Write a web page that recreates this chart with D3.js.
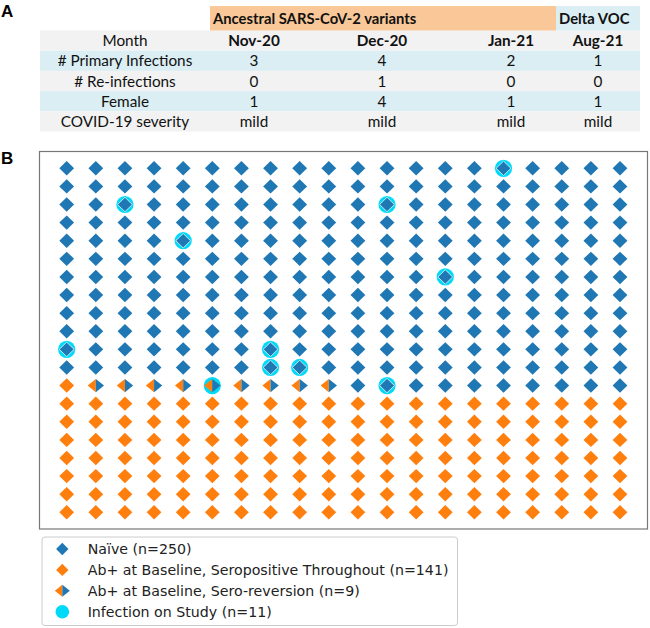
<!DOCTYPE html>
<html>
<head>
<meta charset="utf-8">
<script src="https://cdn.jsdelivr.net/npm/d3@7"></script>
<style>
  html, body { margin: 0; padding: 0; background: #fff; }
  svg { display: block; }
</style>
</head>
<body>
<svg id="chart" width="650" height="628"></svg>
<script>
// ---------- DATA ----------
const variantLabels = ["Ancestral SARS-CoV-2 variants", "Delta VOC"];
const variantMonthSpan = [3, 1];
const rowLabels = ["Month", "# Primary  Infections", "# Re-infections", "Female", "COVID-19 severity"];
const months = ["Nov-20", "Dec-20", "Jan-21", "Aug-21"];
const primaryInfections = [3, 4, 2, 1];
const reInfections = [0, 1, 0, 0];
const female = [1, 4, 1, 1];
const severity = ["mild", "mild", "mild", "mild"];

const gridCols = 20;
const gridRows = 20;
// counts filled from the bottom-left, row by row upward
const groupNames = ["Ab+ at Baseline, Seropositive Throughout", "Ab+ at Baseline, Sero-reversion", "Naïve"];
const groupKeys = ["pos", "rev", "naive"];
const groupCounts = [141, 9, 250];
// infections on study: [column, row-from-top]
const infections = [[15,0],[2,2],[11,2],[4,4],[13,6],[0,10],[7,10],[7,11],[8,11],[5,12],[11,12]];

const legendLabels = ["Naïve (n=250)", "Ab+ at Baseline, Seropositive Throughout (n=141)", "Ab+ at Baseline, Sero-reversion (n=9)", "Infection on Study (n=11)"];

// ---------- STYLE ----------
const BLUE = "#1f77b4", ORANGE = "#ff7f0e", CYAN = "#00d9f7";
const svg = d3.select("#chart");

// ---------- PANEL LABELS ----------
svg.append("text").attr("x", 1).attr("y", 17).text("A")
  .attr("font-family", "Liberation Sans, Arial, sans-serif").attr("font-weight", "bold").attr("font-size", 17);
svg.append("text").attr("x", 1).attr("y", 164).text("B")
  .attr("font-family", "Liberation Sans, Arial, sans-serif").attr("font-weight", "bold").attr("font-size", 17);

// ---------- TABLE (panel A) ----------
const tFont = "Lato, 'Open Sans', sans-serif";
const colEdges = [40, 210, 298, 466, 556, 640];
const colCenter = i => (colEdges[i] + colEdges[i + 1]) / 2;
const rowY = d3.scaleBand().domain(d3.range(rowLabels.length)).range([30.5, 131.5]);
const rowFill = ["#f2f2f2", "#daeef3", "#f2f2f2", "#daeef3", "#f2f2f2"];

const tbl = svg.append("g");
tbl.selectAll("rect.row").data(rowLabels).join("rect")
  .attr("x", colEdges[0]).attr("width", colEdges[5] - colEdges[0])
  .attr("y", (d, i) => rowY(i)).attr("height", rowY.bandwidth())
  .attr("fill", (d, i) => rowFill[i]);

// header bands
let startCol = 1;
const headerFill = ["#fac898", "#dbeef4"];
variantLabels.forEach((lab, k) => {
  const x0 = colEdges[startCol], x1 = colEdges[startCol + variantMonthSpan[k]];
  tbl.append("rect").attr("x", x0).attr("y", 6).attr("width", x1 - x0).attr("height", 24.5).attr("fill", headerFill[k]);
  tbl.append("text").attr("x", x0 + 3).attr("y", 24).text(lab)
    .attr("font-family", tFont).attr("font-weight", "bold").attr("font-size", 14.8).attr("fill", "#111");
  startCol += variantMonthSpan[k];
});

const tableRows = [months, primaryInfections, reInfections, female, severity];
rowLabels.forEach((lab, r) => {
  const cy = rowY(r) + rowY.bandwidth() / 2 + 5.6;
  tbl.append("text").attr("x", colCenter(0)).attr("y", cy).attr("text-anchor", "middle")
    .attr("font-family", tFont).attr("font-size", 15.3).attr("fill", "#111").text(lab);
  tableRows[r].forEach((v, c) => {
    tbl.append("text").attr("x", colCenter(c + 1)).attr("y", cy).attr("text-anchor", "middle")
      .attr("font-family", tFont).attr("font-size", 15.3).attr("fill", "#111")
      .attr("font-weight", r === 0 ? "bold" : "normal").text(v);
  });
});

// ---------- GRID (panel B) ----------
svg.append("rect").attr("x", 39.5).attr("y", 151.5).attr("width", 608).attr("height", 377.5)
  .attr("fill", "none").attr("stroke", "#777").attr("stroke-width", 1.2);

const x = d3.scaleLinear().domain([0, gridCols - 1]).range([66.7, 620]);
const y = d3.scaleLinear().domain([0, gridRows - 1]).range([168.3, 512.3]);

// build cells from counts, filling from bottom row upward, left to right
const cells = [];
let k = 0;
groupKeys.forEach((g, gi) => {
  for (let n = 0; n < groupCounts[gi]; n++, k++) {
    cells.push({ col: k % gridCols, row: gridRows - 1 - Math.floor(k / gridCols), type: g });
  }
});
const infected = new Set(infections.map(d => d[0] + "," + d[1]));

const gB = svg.append("g");
// infection circles (behind markers)
gB.selectAll("circle.inf").data(infections).join("circle")
  .attr("cx", d => x(d[0])).attr("cy", d => y(d[1])).attr("r", 8.6).attr("fill", CYAN);

const dh = 7.4, dv = 7.2;
const diamond = `M0,${-dv}L${dh},0L0,${dv}L${-dh},0Z`;
const leftTri = `M0,${-6.6}L0,${6.6}L${-8.2},0Z`;
const rightTri = `M0,${-6.6}L${8.2},0L0,${6.6}Z`;

const full = cells.filter(c => c.type !== "rev");
gB.selectAll("path.dia").data(full).join("path")
  .attr("transform", d => `translate(${x(d.col)},${y(d.row)})`)
  .attr("d", diamond)
  .attr("fill", d => d.type === "naive" ? BLUE : ORANGE)
  .attr("stroke", d => infected.has(d.col + "," + d.row) ? "#e8fbff" : "none")
  .attr("stroke-width", 0.8);

const rev = cells.filter(c => c.type === "rev");
gB.selectAll("path.revL").data(rev).join("path")
  .attr("transform", d => `translate(${x(d.col)},${y(d.row)})`)
  .attr("d", leftTri).attr("fill", ORANGE);
gB.selectAll("path.revR").data(rev).join("path")
  .attr("transform", d => `translate(${x(d.col)},${y(d.row)})`)
  .attr("d", rightTri).attr("fill", BLUE);

// ---------- LEGEND ----------
const lg = svg.append("g");
lg.append("rect").attr("x", 42).attr("y", 537).attr("width", 415.5).attr("height", 88.5)
  .attr("rx", 3).attr("fill", "#fff").attr("stroke", "#cccccc").attr("stroke-width", 1);
const ly = d3.scalePoint().domain(d3.range(legendLabels.length)).range([549, 611.7]);
const lx = 62.3;
const ldh = 6.2, ldv = 6.2;
const ldiamond = `M0,${-ldv}L${ldh},0L0,${ldv}L${-ldh},0Z`;
lg.append("path").attr("transform", `translate(${lx},${ly(0)})`).attr("d", ldiamond).attr("fill", BLUE);
lg.append("path").attr("transform", `translate(${lx},${ly(1)})`).attr("d", ldiamond).attr("fill", ORANGE);
lg.append("path").attr("transform", `translate(${lx},${ly(2)})`).attr("d", "M0,-6L0,6L-7.5,0Z").attr("fill", ORANGE);
lg.append("path").attr("transform", `translate(${lx},${ly(2)})`).attr("d", "M0,-6L7.5,0L0,6Z").attr("fill", BLUE);
lg.append("circle").attr("cx", lx).attr("cy", ly(3)).attr("r", 6.8).attr("fill", CYAN);

lg.selectAll("text.lab").data(legendLabels).join("text")
  .attr("x", 87.7).attr("y", (d, i) => ly(i) + 5)
  .attr("font-family", "DejaVu Sans, sans-serif").attr("font-size", 14.2).attr("fill", "#222")
  .text(d => d);
</script>
</body>
</html>
